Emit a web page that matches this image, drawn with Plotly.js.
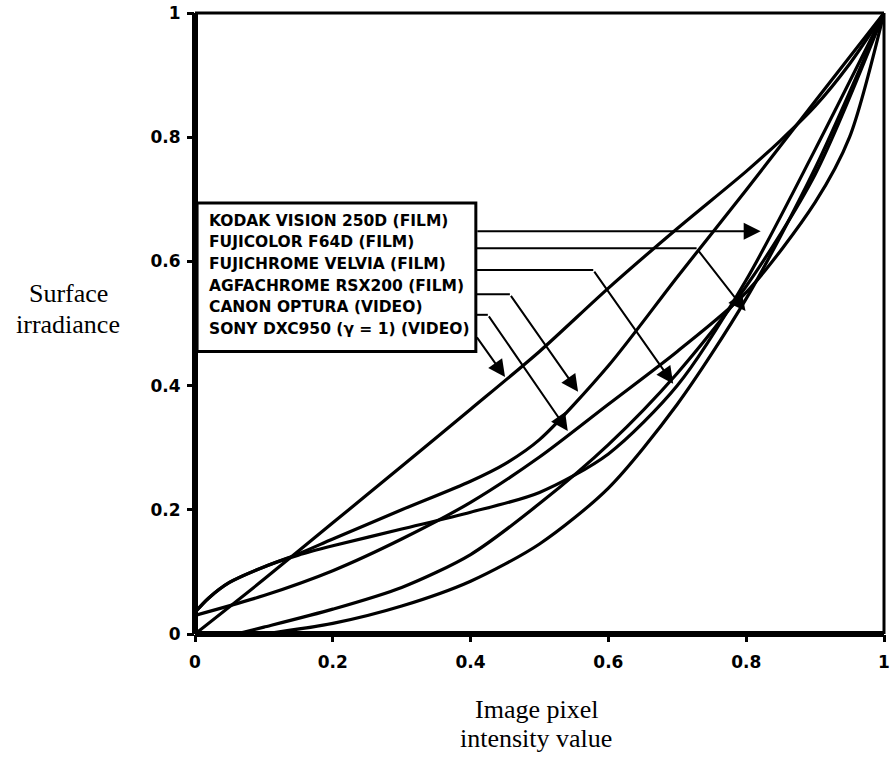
<!DOCTYPE html>
<html>
<head>
<meta charset="utf-8">
<script src="https://cdn.plot.ly/plotly-3.0.1.min.js"></script>
<style>html,body{margin:0;padding:0;background:#fff;}#chart{width:891px;height:758px;}</style>
</head>
<body>
<div id="chart"></div>
<script>
// ---- data ----
const sonyX = [0, 0.1, 0.2, 0.3, 0.4, 0.5, 0.6, 0.7, 0.8, 0.85, 0.9, 0.95, 1];
const sonyY = [0, 0.088, 0.179, 0.27, 0.362, 0.455, 0.557, 0.653, 0.745, 0.795, 0.85, 0.918, 1];

const agfaX = [0, 0.02, 0.05, 0.1, 0.15, 0.2, 0.3, 0.4, 0.45, 0.5, 0.6, 0.7, 0.8, 0.9, 1];
const agfaY = [0.035, 0.058, 0.083, 0.108, 0.129, 0.153, 0.2, 0.246, 0.274, 0.313, 0.432, 0.575, 0.715, 0.858, 1];

const velviaX = [0, 0.02, 0.05, 0.1, 0.15, 0.2, 0.3, 0.4, 0.5, 0.6, 0.7, 0.8, 0.9, 1];
const velviaY = [0.035, 0.058, 0.083, 0.108, 0.127, 0.142, 0.169, 0.196, 0.228, 0.29, 0.4, 0.57, 0.78, 1];

const canonX = [0, 0.1, 0.2, 0.3, 0.4, 0.5, 0.6, 0.7, 0.8, 0.9, 0.95, 1];
const canonY = [0.03, 0.062, 0.102, 0.153, 0.212, 0.285, 0.37, 0.455, 0.55, 0.695, 0.8, 1];

const fujicolorX = [0.06, 0.1, 0.2, 0.3, 0.4, 0.5, 0.6, 0.7, 0.8, 0.9, 1];
const fujicolorY = [0, 0.011, 0.04, 0.075, 0.128, 0.21, 0.305, 0.42, 0.56, 0.74, 1];

const kodakX = [0.1, 0.2, 0.3, 0.4, 0.5, 0.6, 0.7, 0.8, 0.9, 1];
const kodakY = [0, 0.017, 0.045, 0.085, 0.145, 0.235, 0.37, 0.54, 0.75, 1];

const tickVals = [0, 0.2, 0.4, 0.6, 0.8, 1];
const tickText = ['0', '0.2', '0.4', '0.6', '0.8', '1'];

const legendLabels = [
  'KODAK VISION 250D (FILM)',
  'FUJICOLOR F64D (FILM)',
  'FUJICHROME VELVIA (FILM)',
  'AGFACHROME RSX200 (FILM)',
  'CANON OPTURA (VIDEO)',
  'SONY DXC950 (\u03B3 = 1) (VIDEO)'
];
// arrow routes: polyline points (data units); last point is the arrow tip
const arrowRoutesX = [
  [0.4076, 0.821],
  [0.4076, 0.728, 0.799],
  [0.4076, 0.578, 0.694],
  [0.4076, 0.457, 0.556],
  [0.4076, 0.425, 0.541],
  [0.4076, 0.450]
];
const arrowRoutesY = [
  [0.6485, 0.6485],
  [0.621, 0.621, 0.520],
  [0.586, 0.586, 0.403],
  [0.547, 0.547, 0.390],
  [0.514, 0.514, 0.327],
  [0.480, 0.414]
];

// ---- build ----
const series = [
  [sonyX, sonyY], [agfaX, agfaY], [velviaX, velviaY],
  [canonX, canonY], [fujicolorX, fujicolorY], [kodakX, kodakY]
];
const traces = series.map(([x, y]) => ({
  x: x, y: y, type: 'scatter', mode: 'lines',
  line: {color: '#000', width: 3.2, shape: 'spline', smoothing: 0.8},
  hoverinfo: 'skip', showlegend: false
}));

const shapes = [
  {type: 'line', xref: 'paper', yref: 'paper', x0: 0, x1: 0, y0: 0, y1: 1, line: {color: '#000', width: 6}},
  {type: 'line', xref: 'paper', yref: 'paper', x0: 0, x1: 1, y0: 0, y1: 0, line: {color: '#000', width: 6}},
  {type: 'line', xref: 'paper', yref: 'paper', x0: 0, x1: 1, y0: 1, y1: 1, line: {color: '#000', width: 3}},
  {type: 'line', xref: 'paper', yref: 'paper', x0: 1, x1: 1, y0: 0, y1: 1, line: {color: '#000', width: 3}},
  {type: 'rect', xref: 'x', yref: 'y', x0: 0.003, x1: 0.4076, y0: 0.455, y1: 0.694,
   fillcolor: '#fff', line: {color: '#000', width: 3}, layer: 'above'}
];
const annotations = [];
arrowRoutesX.forEach((xs, i) => {
  const ys = arrowRoutesY[i];
  const n = xs.length;
  if (n > 2) {
    let p = 'M ' + xs[0] + ' ' + ys[0];
    for (let k = 1; k < n - 1; k++) p += ' L ' + xs[k] + ' ' + ys[k];
    shapes.push({type: 'path', xref: 'x', yref: 'y', path: p, line: {color: '#000', width: 2}, layer: 'above'});
  }
  annotations.push({
    x: xs[n - 1], y: ys[n - 1], ax: xs[n - 2], ay: ys[n - 2],
    xref: 'x', yref: 'y', axref: 'x', ayref: 'y', text: '',
    showarrow: true, arrowhead: 2, arrowsize: 1.7, arrowwidth: 2, arrowcolor: '#000', standoff: 0
  });
});
const textY = [0.665, 0.631, 0.596, 0.561, 0.526, 0.491];
legendLabels.forEach((t, i) => {
  annotations.push({
    x: 0.018, y: textY[i], xref: 'x', yref: 'y', xanchor: 'left', yanchor: 'middle',
    text: t, showarrow: false,
    font: {family: 'DejaVu Sans', size: 15.5, color: '#000', weight: 'bold'}
  });
});
const serif = {family: 'Liberation Serif, Times New Roman, serif', size: 26, color: '#000'};
annotations.push(
  {xref: 'paper', yref: 'paper', x: 0.495, y: -0.122, text: 'Image pixel', showarrow: false, font: serif, xanchor: 'center', yanchor: 'middle'},
  {xref: 'paper', yref: 'paper', x: 0.495, y: -0.169, text: 'intensity value', showarrow: false, font: serif, xanchor: 'center', yanchor: 'middle'},
  {xref: 'paper', yref: 'paper', x: -0.184, y: 0.548, text: 'Surface', showarrow: false, font: serif, xanchor: 'center', yanchor: 'middle'},
  {xref: 'paper', yref: 'paper', x: -0.184, y: 0.498, text: 'irradiance', showarrow: false, font: serif, xanchor: 'center', yanchor: 'middle'}
);

const tickFont = {family: 'DejaVu Sans', size: 17, color: '#000', weight: 'bold'};
const layout = {
  width: 891, height: 758,
  margin: {l: 195, r: 7, t: 13, b: 124},
  paper_bgcolor: '#fff', plot_bgcolor: '#fff',
  xaxis: {range: [0, 1], tickvals: tickVals, ticktext: tickText, showgrid: false, zeroline: false,
          showline: false, ticks: 'outside', ticklen: 7, tickwidth: 3, tickcolor: '#000',
          tickfont: tickFont, ticklabelstandoff: 6, fixedrange: true},
  yaxis: {range: [0, 1], tickvals: tickVals, ticktext: tickText, showgrid: false, zeroline: false,
          showline: false, ticks: 'outside', ticklen: 7, tickwidth: 3, tickcolor: '#000',
          tickfont: tickFont, ticklabelstandoff: 3, fixedrange: true},
  shapes: shapes, annotations: annotations, showlegend: false
};
Plotly.newPlot('chart', traces, layout, {staticPlot: true, displayModeBar: false});
</script>
</body>
</html>
